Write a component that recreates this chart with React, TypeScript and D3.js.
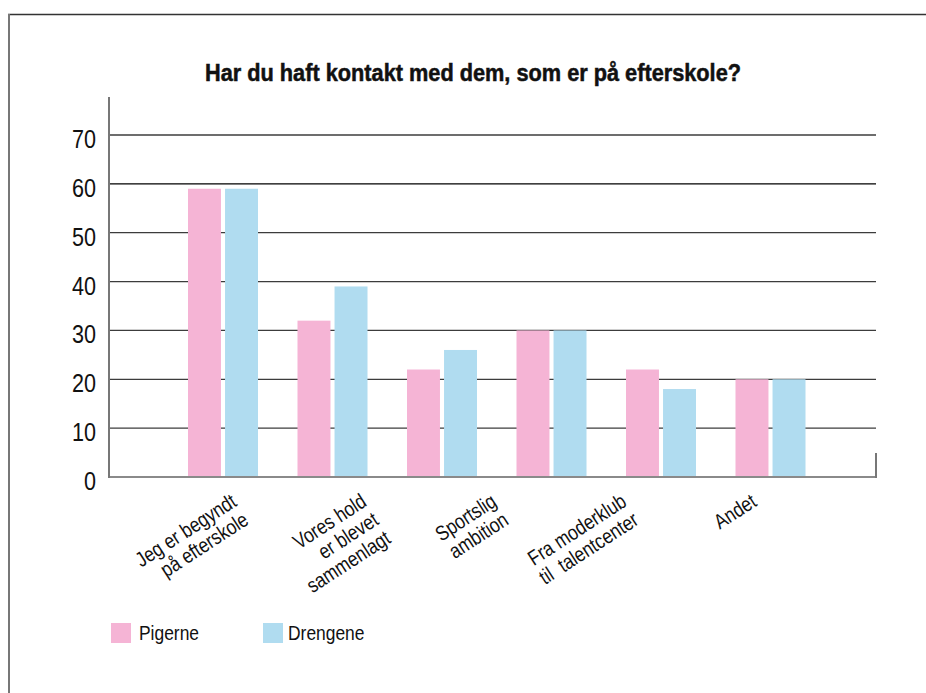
import React from "react";
import * as d3 from "d3";

const title = "Har du haft kontakt med dem, som er på efterskole?";
const groups = ["g1", "g2", "g3", "g4", "g5", "g6"];
const seriesNames = ["Pigerne", "Drengene"];
const pigerne = [59, 32, 22, 30, 22, 20];
const drengene = [59, 39, 26, 30, 18, 20];
const categoryLabels = [
  ["Jeg er begyndt", "på efterskole"],
  ["Vores hold", "er blevet", "sammenlagt"],
  ["Sportslig", "ambition"],
  ["Fra moderklub", "til  talentcenter"],
  ["Andet"],
];
const yTicks = [0, 10, 20, 30, 40, 50, 60, 70];
const colors = ["#F5B4D5", "#B0DCF0"];

const FONT = "'Liberation Sans', Arial, sans-serif";
const NARROW = 0.83;

export default function App() {
  const W = 926, H = 693;
  const plotLeft = 109, plotRight = 876;
  const y = d3.scaleLinear().domain([0, 70]).range([477, 135]);
  const x0 = d3.scaleBand<string>().domain(groups).range([168.25, 825.25]).padding(0);
  const x1 = d3.scaleBand<string>().domain(seriesNames).range([0, 70]).paddingInner(0.11);
  const labelX = d3.scalePoint<number>().domain(d3.range(categoryLabels.length)).range([238, 758]);
  const series = [pigerne, drengene];

  return (
    <svg width={W} height={H} style={{ position: "absolute", left: 0, top: 0, background: "#fff" }}>
      {/* border */}
      <line x1={8} x2={W} y1={14.5} y2={14.5} stroke="#333" strokeWidth={1.3} />
      <line x1={9} x2={9} y1={14} y2={H} stroke="#777" strokeWidth={2} />

      <text x={473} y={81} textAnchor="middle" fontFamily={FONT} fontWeight="bold" fontSize={23}
        textLength={536} lengthAdjust="spacingAndGlyphs" fill="#111" stroke="#111" strokeWidth={0.5}>{title}</text>

      {/* gridlines */}
      {yTicks.filter(t => t > 0).map(t => (
        <line key={t} x1={plotLeft} x2={plotRight} y1={y(t)} y2={y(t)}
          stroke={t === 60 ? "#000" : "#3c3c3c"} strokeWidth={1.3} />
      ))}

      {/* bars */}
      {groups.map((g, gi) => {
        const cx = (x0(g) as number) + x0.bandwidth() / 2 - 35;
        return seriesNames.map((s, si) => (
          <rect key={g + s} x={cx + (x1(s) as number)} y={y(series[si][gi])}
            width={x1.bandwidth()} height={y(0) - y(series[si][gi])} fill={colors[si]} />
        ));
      })}

      {/* axes */}
      <line x1={plotLeft} x2={plotRight} y1={y(0)} y2={y(0)} stroke="#8a8a8a" strokeWidth={2} />
      <line x1={plotLeft} x2={plotLeft} y1={97} y2={y(0) + 1} stroke="#777" strokeWidth={2} />
      <line x1={plotRight} x2={plotRight} y1={453} y2={y(0) + 1} stroke="#777" strokeWidth={2} />

      {/* y tick labels */}
      {yTicks.map(t => (
        <g key={t} transform={`translate(96,${y(t) + 13}) scale(${NARROW},1)`}>
          <text x={0} y={0} textAnchor="end" fontFamily={FONT} fontSize={26} fill="#111">{t}</text>
        </g>
      ))}

      {/* category labels */}
      {categoryLabels.map((lines, i) => (
        <g key={i} transform={`translate(${labelX(i)},${y(0) + 28}) rotate(-33) scale(${NARROW},1)`}>
          {lines.map((ln, li) => (
            <text key={li} x={0} y={li * 22} textAnchor="end" fontFamily={FONT} fontSize={21}
              fill="#111" style={{ whiteSpace: "pre" }}>{ln}</text>
          ))}
        </g>
      ))}

      {/* legend */}
      {seriesNames.map((s, i) => (
        <g key={s} transform={`translate(${111 + i * 152},623)`}>
          <rect x={0} y={0} width={20} height={20} fill={colors[i]} />
          <g transform={`translate(${i === 0 ? 28 : 25},17) scale(${NARROW},1)`}>
            <text x={0} y={0} fontFamily={FONT} fontSize={21} fill="#111">{s}</text>
          </g>
        </g>
      ))}
    </svg>
  );
}
